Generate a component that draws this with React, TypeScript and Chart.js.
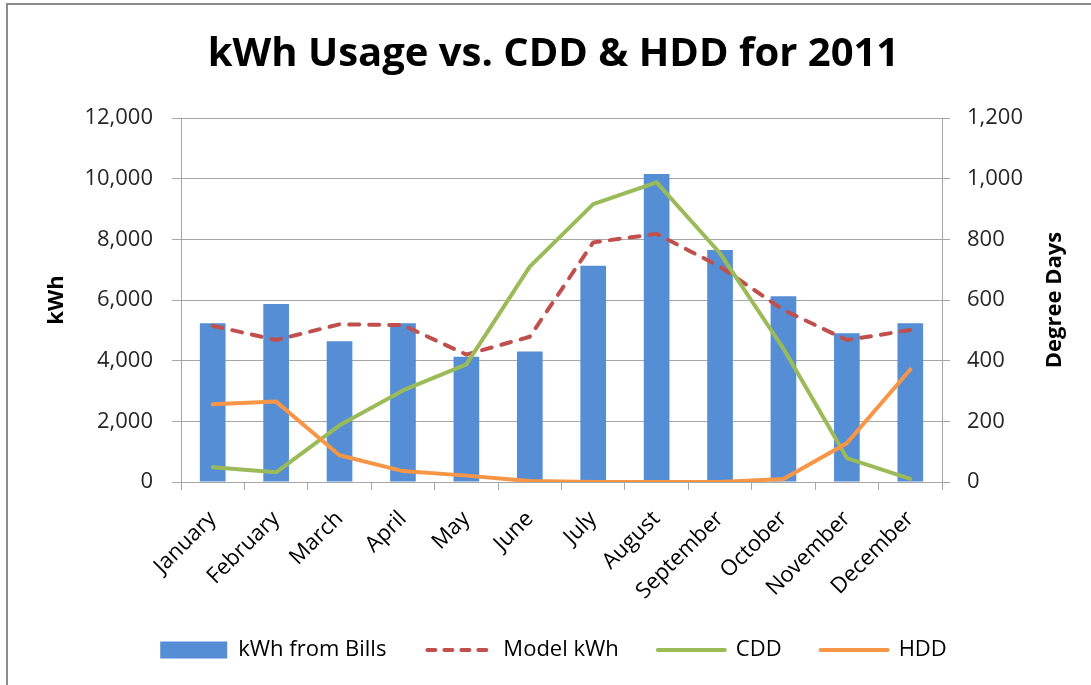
import React, { useEffect, useRef } from "react";
import { Chart, registerables } from "chart.js";

Chart.register(...registerables);

const months = [
  "January", "February", "March", "April", "May", "June",
  "July", "August", "September", "October", "November", "December",
];
const kwhFromBills = [5230, 5870, 4640, 5230, 4130, 4300, 7130, 10150, 7650, 6120, 4900, 5230];
const modelKwh = [5150, 4680, 5200, 5170, 4200, 4790, 7900, 8180, 7100, 5670, 4680, 5010];
const cdd = [49, 32, 187, 302, 388, 710, 916, 988, 754, 440, 79, 10];
const hdd = [256, 265, 88, 36, 21, 3, 0, 0, 0, 10, 128, 371];

const kwhAxis = { min: 0, max: 12000, step: 2000 };
const ddAxis = { min: 0, max: 1200, step: 200 };
const rightAxisTitle = "Degree Days";

const FONT = "'Open Sans', sans-serif";
const GRID = "#a6a6a6";

const rightTitlePlugin = {
  id: "rightTitle",
  afterDraw(chart: any) {
    const { ctx, chartArea } = chart;
    const s = chart.scales.y1;
    ctx.save();
    ctx.font = `bold 22px ${FONT}`;
    ctx.fillStyle = "#000";
    ctx.textAlign = "center";
    ctx.textBaseline = "middle";
    ctx.translate(s.right - 34, (chartArea.top + chartArea.bottom) / 2);
    ctx.rotate(-Math.PI / 2);
    ctx.fillText(rightAxisTitle, 0, 0);
    ctx.restore();
  },
};

export default function App() {
  const ref = useRef<HTMLCanvasElement>(null);

  useEffect(() => {
    Chart.defaults.font.family = FONT;
    Chart.defaults.color = "#262626";
    const chart = new Chart(ref.current!, {
      type: "bar",
      data: {
        labels: months,
        datasets: [
          {
            type: "bar",
            label: "kWh from Bills",
            data: kwhFromBills,
            backgroundColor: "#558ed5",
            borderWidth: 0,
            barPercentage: 0.405,
            categoryPercentage: 1,
            yAxisID: "y",
            order: 4,
          } as any,
          {
            type: "line",
            label: "Model kWh",
            data: modelKwh,
            borderColor: "#c0504d",
            backgroundColor: "#c0504d",
            borderWidth: 4,
            borderDash: [10, 10],
            borderCapStyle: "round",
            borderJoinStyle: "round",
            pointRadius: 0,
            tension: 0,
            yAxisID: "y",
            order: 3,
          } as any,
          {
            type: "line",
            label: "CDD",
            data: cdd,
            borderColor: "#9bbb59",
            backgroundColor: "#9bbb59",
            borderWidth: 4,
            borderCapStyle: "round",
            borderJoinStyle: "round",
            pointRadius: 0,
            tension: 0,
            yAxisID: "y1",
            order: 2,
          } as any,
          {
            type: "line",
            label: "HDD",
            data: hdd,
            borderColor: "#f79646",
            backgroundColor: "#f79646",
            borderWidth: 4,
            borderCapStyle: "round",
            borderJoinStyle: "round",
            pointRadius: 0,
            tension: 0,
            yAxisID: "y1",
            order: 1,
          } as any,
        ],
      },
      options: {
        responsive: false,
        animation: false,
        events: [],
        layout: { padding: { left: 18, right: 2, top: 0, bottom: 14 } },
        plugins: {
          title: {
            display: true,
            text: "kWh Usage vs. CDD & HDD for 2011",
            color: "#000",
            font: { size: 40, weight: "bold", family: FONT, lineHeight: 1.2 },
            padding: { top: 31, bottom: 39 },
          },
          legend: {
            position: "bottom",
            labels: {
              usePointStyle: true,
              pointStyleWidth: 67,
              boxHeight: 17,
              padding: 39,
              color: "#000",
              font: { size: 22, family: FONT },
              generateLabels: (ch: any) =>
                ch.data.datasets.map((ds: any, i: number) => {
                  const isBar = ds.type === "bar";
                  return {
                    text: ds.label,
                    datasetIndex: i,
                    fillStyle: ds.backgroundColor,
                    strokeStyle: isBar ? ds.backgroundColor : ds.borderColor,
                    lineWidth: isBar ? 0 : ds.borderWidth,
                    lineDash: isBar ? [] : ds.borderDash ? [8, 9] : [],
                    lineDashOffset: ds.borderDash ? -2 : 0,
                    lineCap: isBar ? "butt" : "round",
                    pointStyle: isBar ? "rect" : "line",
                    hidden: false,
                    fontColor: "#000",
                  };
                }),
            },
          },
          tooltip: { enabled: false },
        },
        scales: {
          x: {
            grid: {
              display: true,
              drawOnChartArea: false,
              drawTicks: true,
              tickLength: 8,
              color: GRID,
              offset: true,
            },
            border: { color: GRID },
            ticks: {
              maxRotation: 45,
              minRotation: 45,
              padding: 16,
              color: "#000",
              font: { size: 22, family: FONT },
              autoSkip: false,
            },
            afterFit: (s: any) => { s.height = 118; },
          },
          y: {
            position: "left",
            min: kwhAxis.min,
            max: kwhAxis.max,
            ticks: {
              stepSize: kwhAxis.step,
              padding: 19,
              color: "#262626",
              font: { size: 22, family: FONT },
            },
            grid: { color: GRID, tickLength: 9 },
            border: { color: GRID },
            title: {
              display: true,
              text: "kWh",
              color: "#000",
              font: { size: 22, weight: "bold", family: FONT },
              padding: { top: 26, bottom: 0 },
            },
            afterFit: (s: any) => { s.width = 163; },
          },
          y1: {
            position: "right",
            min: ddAxis.min,
            max: ddAxis.max,
            ticks: {
              stepSize: ddAxis.step,
              padding: 17,
              color: "#262626",
              font: { size: 22, family: FONT },
            },
            grid: { drawOnChartArea: false, color: GRID, tickLength: 8 },
            border: { color: GRID },
            afterFit: (s: any) => { s.width = 147; },
          },
        },
      } as any,
      plugins: [rightTitlePlugin],
    });
    return () => chart.destroy();
  }, []);

  return (
    <div
      style={{
        position: "absolute",
        left: 0,
        top: 0,
        width: 1091,
        height: 685,
        background: "#fff",
        overflow: "hidden",
      }}
    >
      <canvas ref={ref} width={1091} height={685} style={{ display: "block" }} />
      <div
        style={{
          position: "absolute",
          left: 6,
          top: 3,
          right: -10,
          bottom: -10,
          borderLeft: "2px solid #8c8c8c",
          borderTop: "2px solid #8c8c8c",
          pointerEvents: "none",
        }}
      />
    </div>
  );
}
